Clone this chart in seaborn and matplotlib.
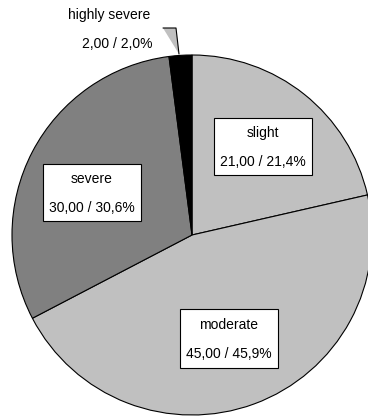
import matplotlib
matplotlib.use("Agg")
import matplotlib.pyplot as plt
import seaborn as sns
from matplotlib.patches import Rectangle, Polygon

categories = ["slight", "moderate", "severe", "highly severe"]
values = [21.0, 45.0, 30.0, 2.0]
colors = ["#c0c0c0", "#c0c0c0", "#808080", "#000000"]

sns.set_theme(style="white")
plt.rcParams['font.family'] = ['Liberation Sans', 'DejaVu Sans']

W, H = 368, 416
fig = plt.figure(figsize=(W / 100, H / 100), dpi=100)
ax = fig.add_axes([0, 0, 1, 1])

def Y(y):
    return H - y

cx, cy, r = 192, 235, 180
ax.pie(values, colors=colors, startangle=90, counterclock=False,
       center=(cx, Y(cy)), radius=r, frame=True,
       wedgeprops=dict(edgecolor="black", linewidth=0.8))
ax.set_xlim(0, W)
ax.set_ylim(0, H)
ax.set_aspect("equal")
ax.axis("off")

total = sum(values)

def fmt(v):
    pct = v / total * 100
    return f"{v:.2f}".replace(".", ",") + " / " + f"{pct:.1f}".replace(".", ",") + "%"

fs = 10
# boxed labels: (x0, y0, x1, y1) in image pixels
boxes = {
    "slight": (214, 118, 312, 175),
    "moderate": (180, 309, 278, 368),
    "severe": (43, 164, 141, 221),
}
for i, cat in enumerate(categories):
    if cat in boxes:
        x0, y0, x1, y1 = boxes[cat]
        ax.add_patch(Rectangle((x0, Y(y1)), x1 - x0, y1 - y0,
                               facecolor="white", edgecolor="black",
                               linewidth=0.8, zorder=5))
        xc = (x0 + x1) / 2
        h = y1 - y0
        ax.text(xc, Y(y0 + h * 0.27), cat, ha="center", va="center",
                fontsize=fs, color="black", zorder=6)
        ax.text(xc, Y(y0 + h * 0.77), fmt(values[i]), ha="center", va="center",
                fontsize=fs, color="black", zorder=6)

# highly severe label outside with pointer
ax.text(109, Y(15), categories[3], ha="center", va="center", fontsize=fs, color="black")
ax.text(152, Y(44), fmt(values[3]), ha="right", va="center", fontsize=fs, color="black")
ax.add_patch(Polygon([(163, Y(28)), (176, Y(28)), (179, Y(54))], closed=True,
                     facecolor="#c0c0c0", edgecolor="none", zorder=4))
ax.plot([163, 176, 179], [Y(28), Y(28), Y(54)], color="black", linewidth=0.8, zorder=4)

fig.savefig("out.png", dpi=100)
